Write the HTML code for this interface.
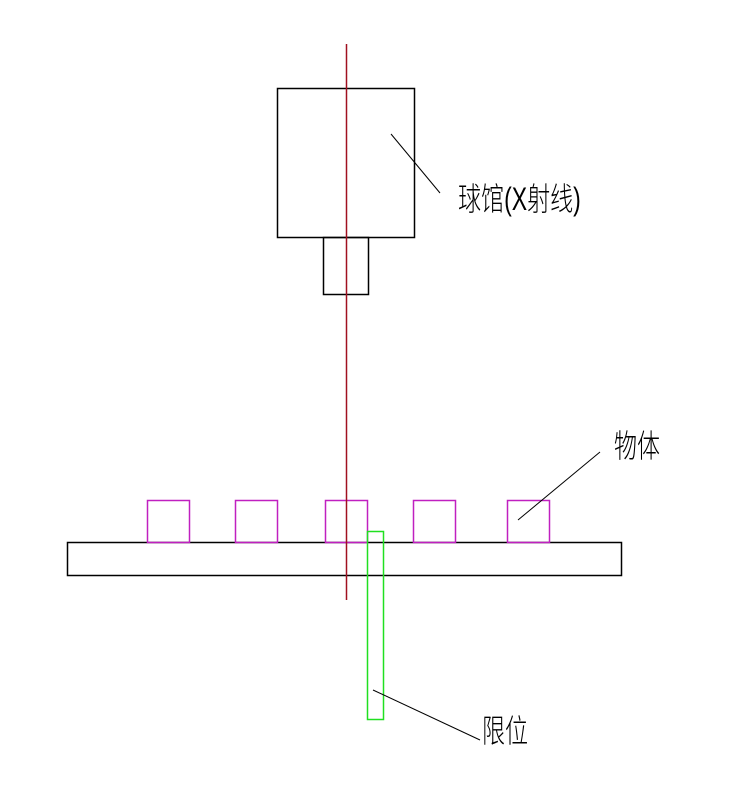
<!DOCTYPE html>
<html><head><meta charset="utf-8"><style>
html,body{margin:0;padding:0;background:#fff;}
svg{display:block;}
text{font-family:"Liberation Sans","Noto Sans CJK SC",sans-serif;font-weight:300;fill:#000;}
</style></head><body>
<svg width="747" height="793" viewBox="0 0 747 793" xmlns="http://www.w3.org/2000/svg">
<g fill="none" stroke-width="1.5">
<rect x="277.5" y="88.5" width="137" height="149" stroke="#000"/>
<rect x="323.5" y="237.5" width="45" height="57" stroke="#000"/>
<rect x="67.5" y="542.5" width="554" height="33" stroke="#000"/>
<rect x="147.5" y="500.5" width="42" height="42" stroke="#c020c0"/>
<rect x="235.5" y="500.5" width="42" height="42" stroke="#c020c0"/>
<rect x="325.5" y="500.5" width="42" height="42" stroke="#c020c0"/>
<rect x="413.5" y="500.5" width="42" height="42" stroke="#c020c0"/>
<rect x="507.5" y="500.5" width="42" height="42" stroke="#c020c0"/>
<rect x="367.5" y="531.5" width="16" height="188" stroke="#20e020"/>
<line x1="346.5" y1="44" x2="346.5" y2="600" stroke="#a01020"/>
</g>
<g stroke="#000" stroke-width="1">
<line x1="391" y1="134" x2="440" y2="193"/>
<line x1="518" y1="520" x2="600" y2="452"/>
<line x1="373" y1="690" x2="480" y2="740"/>
</g>
<text transform="translate(458,210) scale(0.72,1)" font-size="32">球馆(X射线)</text>
<text transform="translate(614,457) scale(0.72,1)" font-size="32">物体</text>
<text transform="translate(482,742) scale(0.72,1)" font-size="32">限位</text>
</svg>
</body></html>
